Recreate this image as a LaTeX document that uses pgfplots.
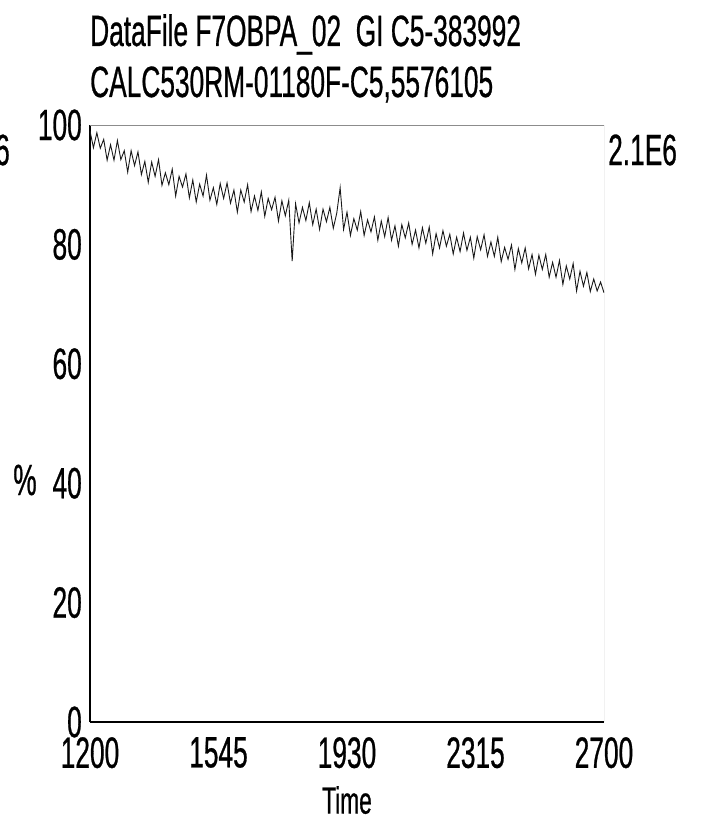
\documentclass[border=0pt]{standalone}
\usepackage{fontspec}
\setmainfont{Liberation Sans}[FakeStretch=0.6, FakeBold=0.6]
\usepackage{pgfplots}
\pgfplotsset{compat=1.18}
\pgfplotstableread{
t v
1200 99.0
1210 96.2
1220 98.7
1230 96.1
1240 97.6
1250 94.1
1260 96.7
1270 94.1
1280 97.4
1290 94.2
1300 95.7
1310 92.1
1320 95.7
1330 93.2
1340 95.5
1350 91.7
1360 93.9
1370 90.4
1380 93.8
1390 91.4
1400 94.2
1410 89.9
1420 92.0
1430 90.0
1440 92.6
1450 88.1
1460 91.4
1470 89.6
1480 91.8
1490 87.8
1500 90.8
1510 87.1
1520 90.1
1530 88.1
1540 91.6
1550 87.4
1560 89.5
1570 86.7
1580 90.2
1590 87.7
1600 90.3
1610 86.9
1620 89.1
1630 85.4
1640 89.1
1650 87.1
1660 90.0
1670 85.5
1680 88.1
1690 85.7
1700 88.8
1710 84.7
1720 87.7
1730 85.8
1740 87.9
1750 83.9
1760 87.3
1770 84.8
1780 87.4
1790 77.2
1800 86.8
1810 83.6
1820 86.2
1830 84.0
1840 87.0
1850 83.3
1860 85.9
1870 82.5
1880 85.9
1890 83.8
1900 86.2
1910 82.7
1920 85.2
1930 89.5
1940 82.5
1950 85.4
1960 81.5
1970 84.3
1980 82.4
1990 85.5
2000 81.5
2010 84.1
2020 82.1
2030 84.6
2040 80.7
2050 83.9
2060 81.3
2070 84.5
2080 80.7
2090 83.1
2100 79.7
2110 83.3
2120 81.1
2130 83.6
2140 80.0
2150 82.4
2160 79.4
2170 82.8
2180 80.2
2190 82.9
2200 78.4
2210 81.8
2220 79.4
2230 82.3
2240 79.7
2250 81.7
2260 78.4
2270 81.2
2280 78.8
2290 81.9
2300 79.0
2310 81.2
2320 77.7
2330 81.3
2340 79.1
2350 81.6
2360 78.0
2370 80.4
2380 78.0
2390 81.2
2400 77.1
2410 79.5
2420 77.5
2430 79.9
2440 75.8
2450 79.3
2460 76.9
2470 79.4
2480 75.9
2490 78.3
2500 75.0
2510 78.2
2520 75.8
2530 78.3
2540 74.5
2550 77.0
2560 74.5
2570 77.3
2580 73.3
2590 76.4
2600 74.2
2610 76.8
2620 72.2
2630 75.5
2640 73.0
2650 75.3
2660 72.1
2670 74.2
2680 72.2
2690 73.7
2700 71.9
}\datatable
\begin{document}
\fontsize{44}{48}\selectfont
\begin{tikzpicture}
\useasboundingbox (-90bp,-98bp) rectangle (612bp,722bp);
\begin{axis}[
  at={(0,0)}, anchor=south west,
  scale only axis, width=514bp, height=597bp,
  xmin=1200, xmax=2700, ymin=0, ymax=100,
  axis x line*=bottom, axis y line*=left,
  axis line style={-, line width=1.6pt, black},
  xtick={1200,1575,1950,2325,2700},
  xticklabels={1200,1545,1930,2315,2700},
  ytick={0,20,40,60,80,100},
  major tick length=0pt,
  /pgf/number format/assume math mode=true,
  tick label style={font=\fontsize{44}{48}\selectfont},
  yticklabel style={anchor=east, inner sep=0pt, xshift=-8bp},
  xticklabel style={anchor=north, inner sep=0pt, yshift=-15bp},
]
\draw[black!45, line width=0.8pt] (rel axis cs:0,1) -- (rel axis cs:1,1) -- (rel axis cs:1,0);
\addplot[black!90, line width=0.9pt] table[x=t, y=v] {\datatable};
\end{axis}
\node[anchor=base west, inner sep=0pt] at (0bp,676bp) {DataFile F7OBPA\_02\ \ GI C5-383992};
\node[anchor=base west, inner sep=0pt] at (0bp,625bp) {CALC530RM-01180F-C5,5576105};
\node[anchor=east, inner sep=0pt] at (-80bp,572bp) {2.1E6};
\node[anchor=west, inner sep=0pt] at (518bp,572bp) {2.1E6};
\node[inner sep=0pt] at (-65bp,242bp) {\%};
\node[anchor=north, inner sep=0pt] at (257bp,-64bp) {\fontsize{38}{40}\selectfont Time};
\end{tikzpicture}
\end{document}
